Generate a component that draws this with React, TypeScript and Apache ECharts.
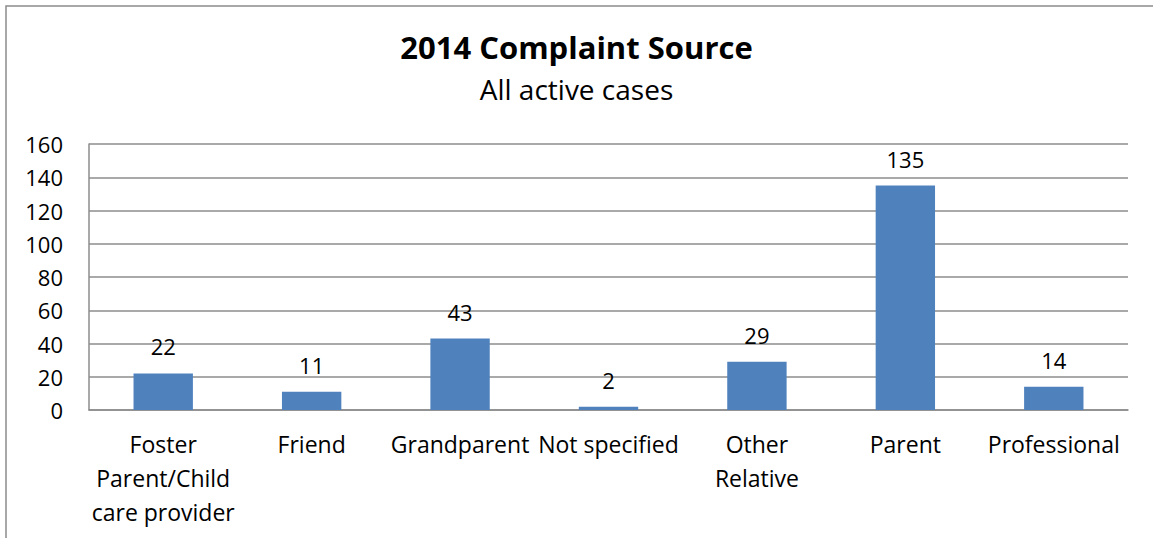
import React, { useEffect, useRef } from "react";
import * as echarts from "echarts";

const categories = [
  "Foster\nParent/Child\ncare provider",
  "Friend",
  "Grandparent",
  "Not specified",
  "Other\nRelative",
  "Parent",
  "Professional",
];
const values = [22, 11, 43, 2, 29, 135, 14];
const titleText = "2014 Complaint Source";
const subtitleText = "All active cases";
const yMin = 0;
const yMax = 160;
const yStep = 20;

const FONT = "'Open Sans', sans-serif";

export default function App() {
  const ref = useRef<HTMLDivElement>(null);
  useEffect(() => {
    if (!ref.current) return;
    const chart = echarts.init(ref.current, undefined, { renderer: "svg" });
    chart.setOption({
      animation: false,
      backgroundColor: "#ffffff",
      title: {
        text: titleText,
        subtext: subtitleText,
        left: "center",
        top: 29,
        itemGap: 8,
        padding: 0,
        textStyle: { fontFamily: FONT, fontSize: 31, fontWeight: "bold", color: "#000", lineHeight: 36 },
        subtextStyle: { fontFamily: FONT, fontSize: 28, color: "#000", lineHeight: 32 },
      },
      graphic: [
        {
          type: "rect",
          shape: { x: 6, y: 6, width: 1300, height: 700 },
          style: { fill: "none", stroke: "#8c8c8c", lineWidth: 1.5 },
          silent: true,
        },
      ],
      grid: { left: 89, right: 25, top: 144, bottom: 128, containLabel: false },
      xAxis: {
        type: "category",
        data: categories,
        axisLine: { show: true, lineStyle: { color: "#8c8c8c", width: 1.5 } },
        axisTick: { show: false },
        axisLabel: {
          interval: 0,
          margin: 17,
          fontFamily: FONT,
          fontSize: 23,
          color: "#000",
          lineHeight: 34,
        },
      },
      yAxis: {
        type: "value",
        min: yMin,
        max: yMax,
        interval: yStep,
        axisLine: { show: true, lineStyle: { color: "#8c8c8c", width: 1.5 } },
        axisTick: { show: false },
        axisLabel: { margin: 26, fontFamily: FONT, fontSize: 22, color: "#000" },
        splitLine: { show: true, lineStyle: { color: "#8c8c8c", width: 1.5 } },
      },
      series: [
        {
          type: "bar",
          data: values,
          barWidth: "40%",
          itemStyle: { color: "#4F81BD" },
          label: {
            show: true,
            position: "top",
            distance: 16,
            fontFamily: FONT,
            fontSize: 22,
            color: "#000",
          },
        },
      ],
    });
    return () => chart.dispose();
  }, []);
  return (
    <div
      ref={ref}
      style={{ position: "absolute", left: 0, top: 0, width: 1153, height: 538 }}
    />
  );
}
